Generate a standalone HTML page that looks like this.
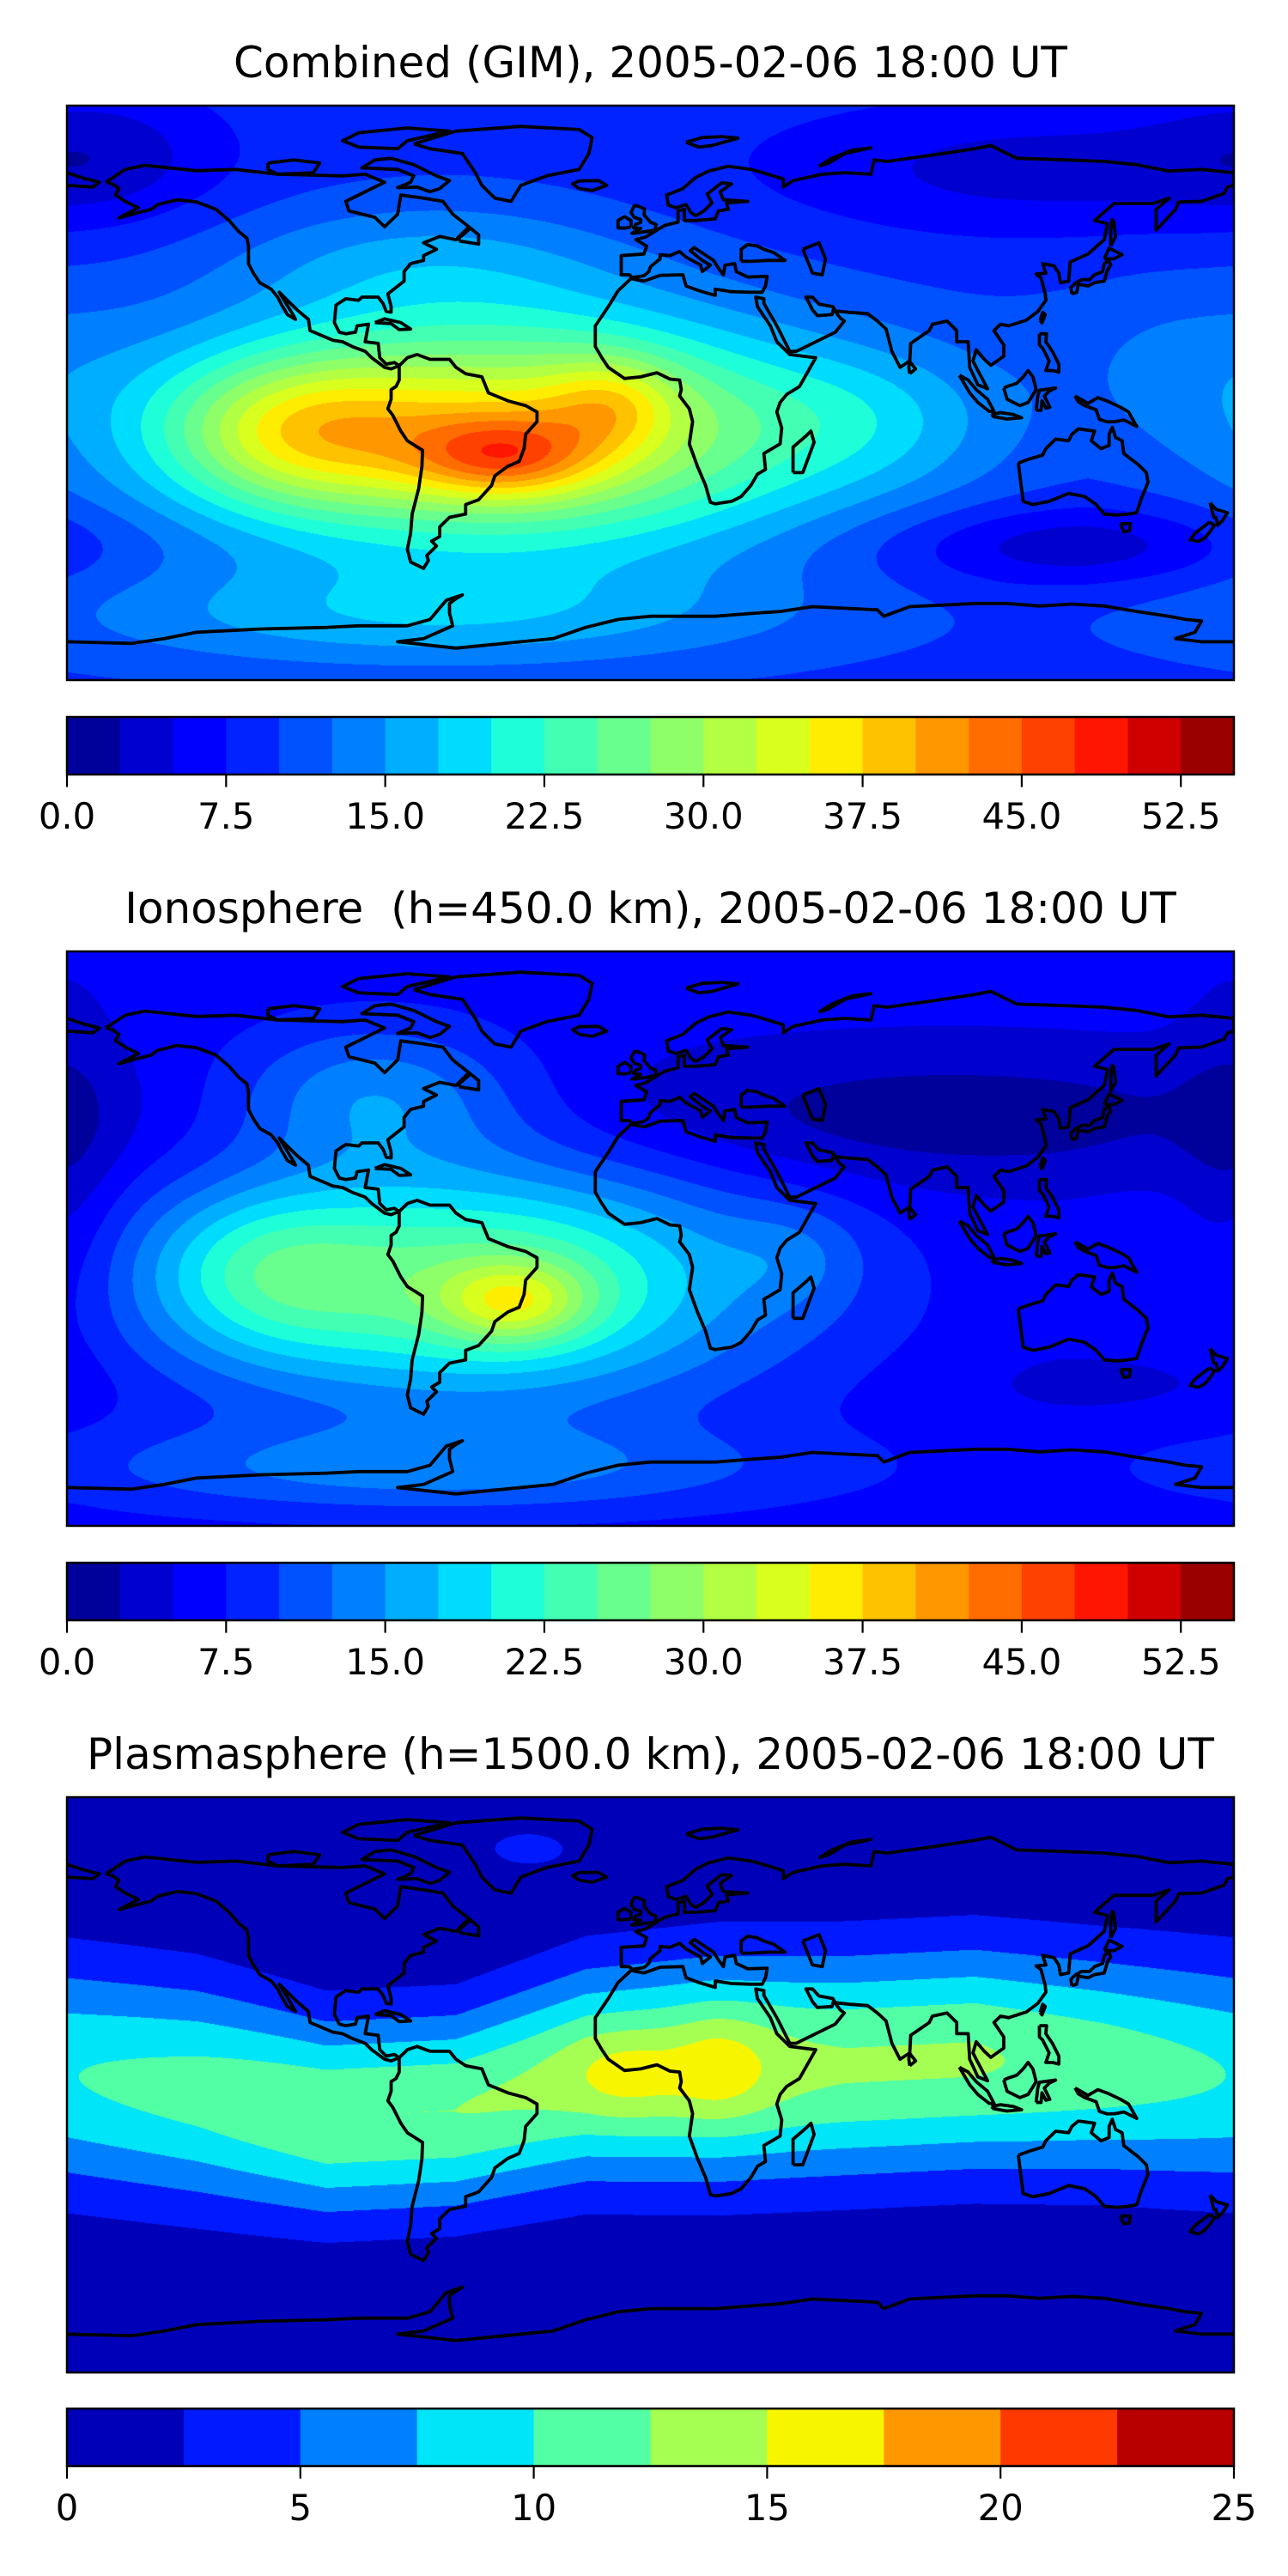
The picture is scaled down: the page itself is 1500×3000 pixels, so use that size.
<!DOCTYPE html>
<html><head><meta charset="utf-8">
<style>
html,body{margin:0;padding:0;background:#fff;}
body{width:1500px;height:3000px;position:relative;overflow:hidden;font-family:"DejaVu Sans","Liberation Sans",sans-serif;}
.title{position:absolute;left:0;width:1515px;text-align:center;font-size:50px;line-height:50px;color:#000;}
canvas{position:absolute;left:78px;}
#overlay{position:absolute;left:0;top:0;}
</style></head>
<body>
<div class="title" style="top:48px">Combined (GIM), 2005-02-06 18:00 UT</div>
<div class="title" style="top:1033px">Ionosphere&nbsp; (h=450.0 km), 2005-02-06 18:00 UT</div>
<div class="title" style="top:2018px">Plasmasphere (h=1500.0 km), 2005-02-06 18:00 UT</div>
<canvas id="c1" width="1359" height="669" style="top:123px"></canvas>
<canvas id="c2" width="1359" height="669" style="top:1108px"></canvas>
<canvas id="c3" width="1359" height="670" style="top:2093px"></canvas>
<svg id="overlay" width="1500" height="3000" xmlns="http://www.w3.org/2000/svg"></svg>
<script>
// ---------- data ----------
const combinedLevels = [0,2.5,5,7.5,10,12.5,15,17.5,20,22.5,25,27.5,30,32.5,35,37.5,40,42.5,45,47.5,50,52.5,55];
const combinedTicks = [0,7.5,15,22.5,30,37.5,45,52.5];
const combinedTickLabels = ["0.0","7.5","15.0","22.5","30.0","37.5","45.0","52.5"];
const plasmaLevels = [0,2.5,5,7.5,10,12.5,15,17.5,20,22.5,25];
const plasmaTicks = [0,5,10,15,20,25];
const plasmaTickLabels = ["0","5","10","15","20","25"];

// Combined TEC field: background + anomalies (lon, lat, amplitude, lon-width, lat-width)
const combBase = 9;
const combLon = [-45,-45,-12,-110,70,-70,130,120,-170,-70,160];
const combLat = [-12,-20,-3,-12,-8,-70,-48,70,75,42,10];
const combAmp = [27,12,7,12,4,7,-6,-5,-4,5,3];
const combSLon = [70,20,14,28,28,80,40,60,25,45,30];
const combSLat = [26,9,10,16,16,12,9,15,15,14,20];

// Ionosphere field
const ionoBase = 6;
const ionoLon = [-55,-42,-120,90,-70,-85,-180,45,140];
const ionoLat = [-14,-20,-10,38,-72,45,20,-5,-45];
const ionoAmp = [20,11,8,-5,7,8,-3,3,-2];
const ionoSLon = [62,16,25,80,80,32,12,15,30];
const ionoSLat = [26,9,18,16,10,16,40,12,8];

// Plasmasphere: equatorial band versus longitude + African lobes
const bandLon = [-180,-140,-100,-60,-20,20,60,100,140,180];
const bandCenter = [3,-2,-10,-8,3,5,6,8,6,3];
const bandAmp = [9.9,11,12.5,12.5,13,13.5,12.8,12.8,11.5,9.9];
const bandWidth = [26,25,22,22,24,25,25,25,25,26];
const plasLon = [-8,22,-38];
const plasLat = [3,5,74];
const plasAmp = [3.0,3.2,3];
const plasSLon = [13,11,16];
const plasSLat = [10,12,7];

// coastlines [lon,lat]
const coasts = [
[[-168,66],[-162,70],[-156,71.3],[-140,69.6],[-128,70],[-115,68.5],[-95,68],[-88,68.5],[-82,66],[-94,60],[-93,57],[-85,55],[-82,52],[-78,56],[-77,62],[-70,61],[-64,60],[-61,56],[-56,52],[-60,48],[-65,49],[-70,47],[-66,45],[-70,43],[-70,41.5],[-74,40.5],[-76,38],[-76,35],[-81,31],[-80,27],[-80,25.3],[-81.5,25.5],[-82.5,28],[-84,30],[-89,30],[-90,29],[-94,29.5],[-97,27.5],[-97.5,22],[-96,19],[-94,18.5],[-91,19],[-90.5,21],[-87,21.5],[-88,16],[-84,15.5],[-83.5,11],[-81.5,9],[-79,9.5],[-77.5,8.5],[-80,7.5],[-82,8],[-86,11],[-88,13],[-92,14.5],[-95,16],[-98,16.5],[-105,19.5],[-105.5,23],[-109,26],[-112.5,29.5],[-114.5,31.5],[-113,29],[-110,24],[-109.5,23],[-112,24.5],[-114,28],[-115,30],[-117,32.5],[-120.5,34.5],[-122.5,37.5],[-124,40.5],[-124,46],[-124.5,48.5],[-127,50.5],[-130,54],[-134,57.5],[-140,59.8],[-146,60.5],[-152,59],[-154,57.5],[-158,56.5],[-164,54.8],[-158,58],[-162,60],[-165,62],[-164,64],[-166,65.5],[-168,66]],
[[-73,78],[-60,82],[-40,83.5],[-22,82.5],[-18,80],[-19,75],[-22,70],[-32,68],[-40,65],[-43,60],[-48,61],[-52,65],[-54,69],[-58,75],[-68,76.5],[-73,78]],
[[-77.5,8.5],[-75,11],[-72,12],[-68,10.5],[-62,10.5],[-60,8],[-57,6],[-52,5],[-50,0],[-44,-2.5],[-38.5,-4],[-35,-6],[-35,-9],[-38.5,-13],[-39,-17.5],[-40.5,-21.5],[-44,-23],[-48,-26],[-49,-29],[-53,-33.5],[-57,-35],[-57,-38],[-62,-39],[-65,-42],[-65,-45],[-67.5,-46.5],[-66,-48],[-69,-51],[-68.5,-52.5],[-70,-55],[-74,-53],[-75,-49],[-74,-44],[-73.5,-38],[-71.5,-30],[-70.5,-23],[-70.3,-18],[-75,-15],[-77,-12],[-79.5,-7],[-81,-5],[-80,-2],[-80,1],[-78.5,2],[-77.5,4],[-77.5,7],[-77.5,8.5]],
[[-5.6,36.1],[-6.5,37],[-9,37],[-9,43],[-2,43.5],[-1.2,46],[-4.5,48],[-1.5,48.8],[2,51],[4.5,52.5],[8.5,53.5],[8.5,57],[10.5,57.5],[10.5,54],[14,54],[20,54.5],[21,57],[24,57.5],[23.5,59.5],[30,60],[22.5,60.5],[21.5,63],[25,65.5],[22,65.8],[17.5,62.3],[19,59.5],[16.5,57],[14,55.5],[12.5,56.5],[11,59],[8,58],[5.5,58.8],[5,62],[10,64],[14,67.5],[18,69.5],[24,71],[31,70],[33,69.5],[41,67],[41,64.5],[44,66.5],[53,68.5],[60,69],[68,68.5],[69,73],[73,72.5],[80,73.5],[87,74.5],[100,76.5],[105,77.5],[113,73.5],[128,73],[140,72.5],[150,71.5],[160,69.5],[170,70],[180,69],[180,65],[178,64.5],[177,62.5],[170,60],[163,59.8],[162,57.5],[156,51],[156,57.5],[160,61],[155,59.3],[143,59.3],[137,54],[141,53],[140,48],[135,43.5],[129.5,41],[129,35],[126.5,34.5],[126,37.5],[124.5,39.8],[121,40.5],[122,37.5],[119,37.2],[120.5,36],[121.8,31],[122,29],[119.5,25.5],[116,22.8],[110.5,21],[108,21.5],[106,19.5],[109,15],[109,11.5],[105,8.6],[103,10.5],[100.5,13.5],[99.5,10],[101,7],[104,1.3],[101,2.5],[98.5,8],[98,16],[94.5,16],[94.5,19.5],[91.5,22.5],[87,21.5],[86,19.5],[80.3,15.5],[80,10],[77,8],[74.5,13],[72.7,20],[70,22.5],[67,24.8],[61.5,25.2],[57,25.7],[56.3,27],[52,27.8],[50,30],[48,30],[50,26],[51.5,24.2],[56,24.5],[56.5,26.3],[58.5,23.5],[59.8,22.5],[57,19],[52,16.5],[45,13],[43,13],[39,21],[35,28],[35,29.5],[32.5,30],[33,27],[35,24],[37,21],[39,16],[43,12],[51,11],[46,2],[42,-0.5],[40,-3],[39,-6],[40.5,-11],[40,-16],[35,-19],[35.5,-24],[33,-25.5],[31,-29],[28,-32.5],[25,-34],[20,-34.8],[18.5,-34.3],[17,-29],[14.5,-23],[12,-16],[13,-9],[12,-5],[9,-1],[9.5,1],[9,4],[6,4.3],[2,6.3],[-3,5],[-8,4.5],[-13,8],[-15,11],[-17,14.5],[-17,21],[-13,27],[-10,32],[-6,35.8],[-2,35],[3,36.8],[10,37],[11,33.5],[15,32],[20,30.5],[20,32.5],[25,31.7],[31,31.5],[34.5,31.5],[35.5,33.5],[36,36.5],[30,36.3],[26.5,38],[26,40.5],[23,40],[22.5,37],[21,39],[19.5,41.5],[13.5,45.5],[12.3,44.5],[16,41.5],[18.5,40],[16,38],[15.5,40],[11,42.5],[9,44.3],[6,43],[3,43.3],[3,42],[0,39.5],[-0.5,38],[-2,36.7],[-5.6,36.1]],
[[-180,69],[-175,67.3],[-170,66],[-172,64.5],[-180,65]],
[[113.5,-22],[114,-26],[115,-34],[118,-35],[123,-34],[129,-31.5],[134,-32.5],[137.5,-35],[140,-38],[144,-38.3],[147.5,-38],[150,-37.5],[151.5,-33],[153.5,-28],[153,-25],[150.5,-22.5],[146,-19],[145.5,-15],[143.5,-14],[142.5,-10.8],[141.5,-13],[141.5,-16.5],[139,-17.5],[136,-15],[137,-12],[132,-11.3],[130,-13],[129,-15],[125,-14.5],[122,-17.5],[121,-19.5],[117,-20.7],[113.5,-22]],
[[145,-41],[148,-41],[147.8,-43.2],[146,-43.5],[145,-41]],
[[172.7,-34.5],[174.5,-36.5],[178,-37.6],[176.5,-40],[175,-41.5],[174.5,-39],[173.8,-39],[172.7,-34.5]],
[[172.5,-40.5],[174,-41.5],[172.5,-43.7],[171,-45.5],[169,-46.6],[166.5,-46],[168,-44],[172.5,-40.5]],
[[-180,-78],[-160,-78.5],[-150,-77],[-140,-75],[-120,-74],[-100,-73.5],[-90,-73],[-75,-73],[-68,-71],[-63,-65],[-58,-63.3],[-60,-64.5],[-62,-66],[-62,-69],[-61,-73],[-70,-77],[-78,-78],[-60,-80],[-40,-78],[-30,-77],[-20,-73.5],[-10,-71],[0,-70],[20,-70],[33,-69],[40,-68.5],[50,-67],[60,-67.5],[70,-68],[72,-70],[80,-67],[90,-66.5],[100,-66],[110,-66],[120,-66.8],[130,-66.2],[140,-66.8],[150,-68.5],[160,-70],[165,-71],[170,-71.5],[168,-75],[162,-77],[170,-78],[180,-78]],
[[-5,50],[1.5,51],[1.7,52.8],[0,53.5],[-2,55.8],[-1.8,57.6],[-4,58.6],[-5,58.6],[-6,56.5],[-5,55],[-3,54.3],[-3,53.4],[-4.5,52.8],[-5.2,51.7],[-3,51.5],[-5.7,50],[-5,50]],
[[-6,52],[-6,54],[-8,55.2],[-10,54],[-10,51.7],[-8,51.6],[-6,52]],
[[-22,64],[-24,65.5],[-22,66.4],[-16,66.5],[-13.5,65],[-18,63.4],[-22,64]],
[[130,31],[131.5,31.5],[132,34],[135,33.5],[137,34.5],[140,35],[141,38.5],[142,40],[141.5,41.5],[140,40.5],[139.5,38],[137,37],[135.5,35.5],[133,35.5],[131,34.3],[129.7,33],[130,31]],
[[140,42],[141.5,45.3],[145.5,43.3],[143,42],[140,42]],
[[44,-25],[47,-25],[50.5,-15.5],[49.5,-12],[48,-13.5],[44,-17],[44,-25]],
[[80,6],[81.8,7.5],[80,9.8],[79.7,8],[80,6]],
[[-85,22],[-82,23.2],[-77,22],[-74,20],[-77.5,19.8],[-80,21.7],[-85,22]],
[[109,1.5],[110,-2],[114,-4],[116.5,-3],[119,1],[118,5],[116.5,7],[115,5],[113,3],[110,2],[109,1.5]],
[[95.3,5.5],[98,4],[100.5,1],[104,-2],[106,-5.8],[104.5,-5.8],[101,-3],[98.5,0],[95.3,5.5]],
[[105.2,-6.8],[108,-6.2],[112,-6.8],[114.5,-7.8],[110,-8.2],[106,-7.5],[105.2,-6.8]],
[[131,-1],[135,-3.3],[138,-1.5],[141,-2.6],[145,-4.5],[147.5,-6],[150,-10.5],[146,-8.5],[143.5,-9],[141,-9.1],[138.5,-8.3],[137.5,-5.3],[134,-4],[132,-2.8],[131,-1]],
[[119,-5.5],[120.5,-5.5],[120.8,-2.5],[122,-4.8],[123.2,-4.5],[121.5,-1],[123,0.5],[125,1.5],[120,0.8],[119.5,-1],[119,-5.5]],
[[120,18.5],[122.2,18.5],[122,16],[124,13],[126,9],[126,6.5],[124,7],[122,7],[123,10],[121,14],[120,15],[120,18.5]],
[[120.2,22.7],[121,25.2],[121.8,24.5],[120.8,21.9],[120.2,22.7]],
[[142,46],[143.5,49],[143,53.5],[142.5,54.3],[142,51],[142,46]],
[[52,71],[56,73.5],[62,76],[68,76.8],[60,75],[55,72],[52,71]],
[[11,78.5],[16,80],[22,80.3],[27,79.8],[19,77.5],[15,77],[11,78.5]],
[[-80,73.5],[-73,71.5],[-66,68],[-62,66.5],[-65,64],[-68,63],[-72,64.5],[-78,64.3],[-74,66],[-73,68],[-78,70],[-89,70.5],[-85,73],[-80,73.5]],
[[-118,72],[-110,73],[-102,72],[-104,69],[-115,68.5],[-118,70],[-118,72]],
[[-90,77],[-78,76.5],[-75,79],[-62,82],[-75,83],[-90,81.5],[-95,79],[-90,77]],
[[-59,47.6],[-53,46.6],[-53,49.5],[-55.5,51.6],[-59,48.5],[-59,47.6]],
[[47,45],[52,47],[54,42],[53,37],[50,37.5],[49,40],[47,45]],
[[28,41.2],[28,45],[30,46.5],[33,46],[35,45],[38,44],[41.5,41.5],[36,41.5],[31,41.2],[28,41.2]]
];

// ---------- layout ----------
const MX = 78, MW = 1359;
const maps = [
  {id:'c1', top:123, h:669, cbTop:835, cbH:67, kind:'comb', name:'combined'},
  {id:'c2', top:1108, h:669, cbTop:1820, cbH:67, kind:'iono', name:'ionosphere'},
  {id:'c3', top:2093, h:670, cbTop:2805, cbH:67, kind:'plas', name:'plasmasphere'}
];

function interp(xs, ys, v){
  if(v<=xs[0]) return ys[0];
  for(let i=0;i<xs.length-1;i++){
    if(v<=xs[i+1]){const f=(v-xs[i])/(xs[i+1]-xs[i]);return ys[i]+f*(ys[i+1]-ys[i]);}
  }
  return ys[ys.length-1];
}
function jet(x){
  const r=interp([0,0.35,0.66,0.89,1],[0,0,1,1,0.5],x);
  const g=interp([0,0.125,0.375,0.64,0.91,1],[0,0,1,1,0,0],x);
  const b=interp([0,0.11,0.34,0.65,1],[0.5,1,1,0,0],x);
  return [Math.round(r*255),Math.round(g*255),Math.round(b*255)];
}
function wrap(d){while(d>180)d-=360;while(d<-180)d+=360;return d;}
function blobs(lon,lat,L,A,M,SL,SA){
  let v=0;
  for(let i=0;i<L.length;i++){
    const dl=wrap(lon-L[i])/SL[i], da=(lat-A[i])/SA[i];
    v+=M[i]*Math.exp(-0.5*(dl*dl+da*da));
  }
  return v;
}
function fieldComb(lon,lat){return combBase+blobs(lon,lat,combLon,combLat,combAmp,combSLon,combSLat);}
function fieldIono(lon,lat){return ionoBase+blobs(lon,lat,ionoLon,ionoLat,ionoAmp,ionoSLon,ionoSLat);}
function fieldPlas(lon,lat){
  const c=interp(bandLon,bandCenter,lon), a=interp(bandLon,bandAmp,lon), w=interp(bandLon,bandWidth,lon);
  const d=(lat-c)/w;
  return a*Math.exp(-0.5*d*d)+blobs(lon,lat,plasLon,plasLat,plasAmp,plasSLon,plasSLat);
}

maps.forEach(m=>{
  const levels = m.kind==='plas'?plasmaLevels:combinedLevels;
  const n=levels.length-1;
  const cols=[];for(let i=0;i<n;i++)cols.push(jet((i+0.5)/n));
  const f = m.kind==='comb'?fieldComb:(m.kind==='iono'?fieldIono:fieldPlas);
  const cv=document.getElementById(m.id), ctx=cv.getContext('2d');
  const W=cv.width,H=cv.height, img=ctx.createImageData(W,H), d=img.data;
  for(let y=0;y<H;y++){
    const lat=90-(y+0.5)/H*180;
    for(let x=0;x<W;x++){
      const lon=-180+(x+0.5)/W*360;
      const v=f(lon,lat);
      let k=0;while(k<n-1 && v>=levels[k+1])k++;
      const c=cols[k],p=(y*W+x)*4;
      d[p]=c[0];d[p+1]=c[1];d[p+2]=c[2];d[p+3]=255;
    }
  }
  ctx.putImageData(img,0,0);
});

// ---------- overlay ----------
const NS='http://www.w3.org/2000/svg';
const svg=document.getElementById('overlay');
function el(tag,attrs,parent){const e=document.createElementNS(NS,tag);for(const k in attrs)e.setAttribute(k,attrs[k]);(parent||svg).appendChild(e);return e;}
const defs=el('defs',{});
maps.forEach((m,mi)=>{
  const cp=el('clipPath',{id:'clip'+mi},defs);
  el('rect',{x:MX,y:m.top,width:MW,height:m.h},cp);
  const g=el('g',{'clip-path':'url(#clip'+mi+')'});
  
  
  const xs=lon=>MX+(lon+180)/360*MW, ys=lat=>m.top+(90-lat)/180*m.h;
  coasts.forEach(c=>{
    const pl=el('polyline',{points:c.map(p=>xs(p[0]).toFixed(1)+','+ys(p[1]).toFixed(1)).join(' '),fill:'none',stroke:'#000','stroke-width':3.8,'stroke-linejoin':'round'},g);
    
    
  });
  const fr=el('rect',{x:MX,y:m.top,width:MW,height:m.h,fill:'none',stroke:'#000','stroke-width':2.5});
  
  

  // colorbar
  const levels = m.kind==='plas'?plasmaLevels:combinedLevels;
  const ticks = m.kind==='plas'?plasmaTicks:combinedTicks;
  const labels = m.kind==='plas'?plasmaTickLabels:combinedTickLabels;
  const n=levels.length-1, vmin=levels[0], vmax=levels[n];
  const cx=v=>MX+(v-vmin)/(vmax-vmin)*MW;
  const cb=el('g',{});
  
  
  for(let i=0;i<n;i++){
    const c=jet((i+0.5)/n);
    const r=el('rect',{x:cx(levels[i]),y:m.cbTop,width:cx(levels[i+1])-cx(levels[i])+0.6,height:m.cbH,fill:'rgb('+c.join(',')+')'},cb);
    
    
  }
  el('rect',{x:MX,y:m.cbTop,width:MW,height:m.cbH,fill:'none',stroke:'#000','stroke-width':2.5},cb);
  ticks.forEach((t,i)=>{
    const x=cx(t);
    const tk=el('line',{x1:x,x2:x,y1:m.cbTop+m.cbH,y2:m.cbTop+m.cbH+14.6,stroke:'#000','stroke-width':2.2},cb);
    
    
    const tx=el('text',{x:x,y:m.cbTop+m.cbH+63,'text-anchor':'middle','font-size':41.7,'font-family':'DejaVu Sans, Liberation Sans, sans-serif',fill:'#000'},cb);
    tx.textContent=labels[i];
    
    
  });
});
</script>
</body></html>
